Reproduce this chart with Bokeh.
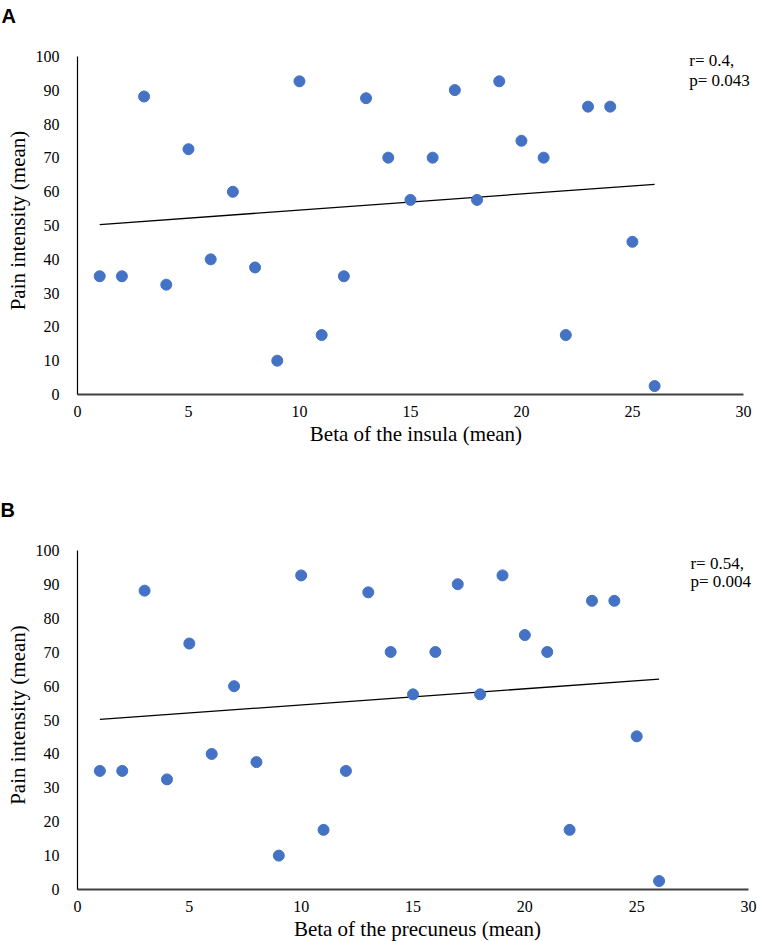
from bokeh.plotting import figure
from bokeh.layouts import column
from bokeh.models import (ColumnDataSource, Label, FixedTicker, LinearAxis,
                          Title)
from bokeh.embed import file_html
from bokeh.resources import INLINE

x_vals = list(range(1, 27))
pain_a = [35, 35, 88.2, 32.5, 72.6, 40, 60, 37.6, 10, 92.7, 17.6, 35, 87.7,
          70.1, 57.6, 70.1, 90.1, 57.6, 92.7, 75.1, 70.1, 17.6, 85.2, 85.2, 45.2, 2.5]
pain_b = [35, 35, 88.2, 32.5, 72.6, 40, 60, 37.6, 10, 92.7, 17.6, 35, 87.7,
          70.1, 57.6, 70.1, 90.1, 57.6, 92.7, 75.1, 70.1, 17.6, 85.2, 85.2, 45.2, 2.5]
trend_x = [1, 26]
trend_a = [50.3, 62.2]
trend_b = [50.2, 62.1]
x_ticks = [0, 5, 10, 15, 20, 25, 30]
y_ticks = [0, 10, 20, 30, 40, 50, 60, 70, 80, 90, 100]

SERIF = "Liberation Serif"


def make_panel(letter, xs, ys, tx, ty, xlabel, stats, stat_pos,
               x_end, frame_w, frame_h, borders):
    top, left, right, bottom = borders
    p = figure(frame_width=frame_w, frame_height=frame_h,
               x_range=(0, x_end), y_range=(0, 103), title=None,
               x_axis_type=None, y_axis_type=None,
               output_backend="svg", toolbar_location=None,
               min_border_top=top, min_border_left=left,
               min_border_right=right, min_border_bottom=bottom)
    p.outline_line_color = None
    p.grid.visible = False

    common = dict(major_tick_line_color=None, minor_tick_line_color=None,
                  major_label_text_font=SERIF,
                  major_label_text_font_size="16px",
                  major_label_text_color="black",
                  axis_label_text_font=SERIF,
                  axis_label_text_font_size="21px",
                  axis_label_text_font_style="normal",
                  axis_label_text_color="black")
    xaxis = LinearAxis(ticker=FixedTicker(ticks=x_ticks), axis_label=xlabel,
                       bounds=(0, 30),
                       axis_line_color="#404040", axis_line_width=2,
                       major_label_standoff=5, axis_label_standoff=2,
                       **common)
    yaxis = LinearAxis(ticker=FixedTicker(ticks=y_ticks),
                       axis_label="Pain intensity (mean)", bounds=(0, 100),
                       axis_line_color="black", axis_line_width=1.2,
                       major_label_standoff=12, axis_label_standoff=3,
                       **common)
    p.add_layout(xaxis, "below")
    p.add_layout(yaxis, "left")

    p.line(tx, ty, line_color="black", line_width=1.3)
    src = ColumnDataSource(dict(x=xs, y=ys))
    p.scatter("x", "y", source=src, size=11, fill_color="#4472C4",
              line_color="#4472C4")

    for txt, yy in zip(stats, stat_pos[1:]):
        p.add_layout(Label(x=stat_pos[0], y=yy, text=txt, text_font=SERIF,
                           text_font_size="17px", text_color="black",
                           text_baseline="middle"))

    # spacer between the frame and the panel letter
    p.add_layout(Title(text=" ", standoff=3, text_font_size="10px"),
                 "above")
    p.add_layout(Title(text=letter, align="left", offset=-left, standoff=4,
                       vertical_align="top",
                       text_font="Liberation Sans", text_font_style="bold",
                       text_font_size="20px", text_color="black"), "above")
    return p


pa = make_panel("A", x_vals, pain_a, trend_x, trend_a,
                "Beta of the insula (mean)", ("r= 0.4,", "p= 0.043"),
                (27.56, 98.8, 92.9), 30.5, 677, 348, (46, 76, 3, 100))
pb = make_panel("B", x_vals, pain_b, trend_x, trend_b,
                "Beta of the precuneus (mean)", ("r= 0.54,", "p= 0.004"),
                (27.4, 96.3, 90.9), 30.4, 680, 349, (46, 77, 0, 40))

layout = column(pa, pb, spacing=0)
open("out.html", "w").write(file_html(layout, INLINE))
